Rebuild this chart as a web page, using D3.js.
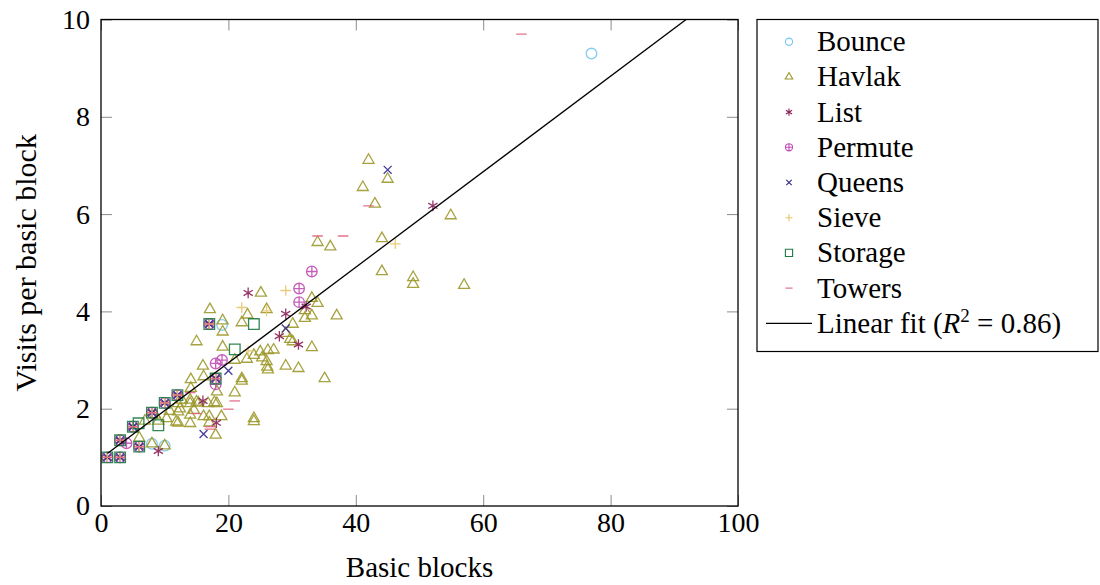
<!DOCTYPE html>
<html>
<head>
<meta charset="utf-8">
<script src="https://cdn.jsdelivr.net/npm/d3@7"></script>
<style>
  body { margin: 0; background: #fff; }
  svg, text { font-family: "Liberation Serif", "DejaVu Serif", serif; fill: #000; }
</style>
</head>
<body>
<svg id="chart" width="1100" height="585"></svg>
<script>
const xTicks = [0, 20, 40, 60, 80, 100];
const yTicks = [0, 2, 4, 6, 8, 10];

// spots where most of the benchmarks sit on top of each other
const sharedPoints = [[1, 1], [3, 1], [3, 1.35], [5, 1.63], [6, 1.22], [8, 1.92], [10, 2.12], [12, 2.28], [17, 3.74], [18, 2.62]];

const bounce = [[3, 1], [8, 1.28], [10, 1.24], [19, 3.72], [77, 9.3]];
const havlak = [
  [6, 1.4], [6.9, 1.75], [8, 1.28], [8.5, 1.87], [9, 1.75], [10, 1.24], [10.3, 1.8], [10.8, 1.95], [11.8, 1.73],
  [12.1, 1.71], [12.1, 1.94], [12.1, 2.11], [12.4, 2.0], [12.7, 2.18], [14, 1.7], [14, 1.87], [14, 2.11], [14, 2.18],
  [14.1, 2.42], [14.1, 2.6], [14.6, 1.97], [15, 2.14], [15, 3.38], [15.3, 2.12], [16, 2.88], [16.1, 2.66], [16.1, 1.84],
  [16.8, 2.11], [17, 1.71], [17, 1.84], [17.1, 4.04], [17.8, 2.13], [18, 1.46], [18.2, 2.11], [18.2, 2.35], [18.9, 1.84],
  [19.1, 3.27], [19.1, 3.58], [19.1, 3.81], [21, 2.33], [21, 3.0], [22.1, 2.57], [22.1, 2.62], [22.1, 3.77], [22.9, 3.02],
  [23, 3.93], [24, 1.8], [24, 1.74], [24, 3.1], [25, 3.17], [25.1, 4.38], [25.3, 3.05], [26, 2.97], [26, 4.04], [26.1, 2.86],
  [26.2, 2.8], [26.2, 3.2], [27.1, 3.21], [29, 2.88], [29, 3.55], [29.7, 3.43], [30.1, 3.38], [30.1, 3.74], [31, 2.83],
  [32, 3.86], [32, 4.02], [33.1, 3.26], [33.1, 3.91], [33.1, 4.27], [34, 4.17], [34, 5.42], [35.1, 2.62], [36, 5.33],
  [37, 3.91], [41.1, 6.55], [42, 7.11], [43, 6.21], [44.1, 4.82], [44.1, 5.5], [45, 6.72], [49, 4.56], [49, 4.7],
  [54.9, 5.97], [57, 4.54]
];
const list = sharedPoints.concat([[9, 1.13], [16, 2.16], [18.1, 1.71], [23.1, 4.38], [28, 3.49], [29, 3.95], [31, 3.32], [32.2, 4.1], [52.1, 6.17]]);
const permute = sharedPoints.concat([[4, 1.29], [18, 2.5], [18, 2.93], [19, 3.0], [31.1, 4.19], [31.1, 4.47], [33.1, 4.82]]);
const queens = sharedPoints.concat([[16.1, 1.48], [20, 2.78], [29, 3.65], [45, 6.91]]);
const sieve = sharedPoints.concat([[22.1, 4.08], [23.1, 3.19], [26, 4.01], [29, 4.43], [46.2, 5.39]]);
const storage = sharedPoints.concat([[5.9, 1.7], [9, 1.66], [21, 3.22], [24, 3.74]]);
const towers = sharedPoints.concat([[14, 2.33], [15, 1.9], [17.1, 1.63], [17.1, 1.58], [20, 1.99], [21, 2.16], [34, 5.55], [38, 5.55], [42, 6.17], [66, 9.7]]);

const fitIntercept = 0.98;
const fitSlope = 0.0982;
const fitR2 = '0.86';

const series = [
  { name: 'Bounce', values: bounce, mark: 'circle', color: '#74c6ef' },
  { name: 'Havlak', values: havlak, mark: 'triangle', color: '#9c982a' },
  { name: 'List', values: list, mark: 'asterisk', color: '#8a1e58' },
  { name: 'Permute', values: permute, mark: 'oplus', color: '#c04cb4' },
  { name: 'Queens', values: queens, mark: 'x', color: '#2e2890' },
  { name: 'Sieve', values: sieve, mark: 'plus', color: '#e6c66c' },
  { name: 'Storage', values: storage, mark: 'square', color: '#1c7a42' },
  { name: 'Towers', values: towers, mark: 'dash', color: '#e06482' }
];

const serifFont = '"Liberation Serif", "DejaVu Serif", serif';

// marker outline as a path string, s = rough half size
function markPath(kind, s) {
  const p = d3.path();
  if (kind === 'circle') {
    p.moveTo(s, 0); p.arc(0, 0, s, 0, 2 * Math.PI);
  } else if (kind === 'triangle') {
    const r = s * 1.2;
    p.moveTo(0, -r);
    p.lineTo(r * Math.cos(Math.PI / 6), r / 2);
    p.lineTo(-r * Math.cos(Math.PI / 6), r / 2);
    p.closePath();
  } else if (kind === 'asterisk') {
    for (let a = 0; a < 3; a++) {
      const ang = Math.PI / 2 + a * Math.PI / 3;
      p.moveTo(Math.cos(ang) * s, Math.sin(ang) * s);
      p.lineTo(-Math.cos(ang) * s, -Math.sin(ang) * s);
    }
  } else if (kind === 'oplus') {
    p.moveTo(s, 0); p.arc(0, 0, s, 0, 2 * Math.PI);
    p.moveTo(-s, 0); p.lineTo(s, 0);
    p.moveTo(0, -s); p.lineTo(0, s);
  } else if (kind === 'x') {
    const d = s * 0.75;
    p.moveTo(-d, -d); p.lineTo(d, d);
    p.moveTo(-d, d); p.lineTo(d, -d);
  } else if (kind === 'plus') {
    p.moveTo(-s, 0); p.lineTo(s, 0);
    p.moveTo(0, -s); p.lineTo(0, s);
  } else if (kind === 'square') {
    p.rect(-s, -s, 2 * s, 2 * s);
  } else if (kind === 'dash') {
    p.moveTo(-s, 0); p.lineTo(s, 0);
  }
  return p.toString();
}

function drawChart() {
  const svg = d3.select('#chart').attr('font-family', serifFont);
  svg.selectAll('*').remove();

  const plot = { left: 101, right: 738, top: 19.5, bottom: 506 };
  const x = d3.scaleLinear().domain([0, 100]).range([plot.left, plot.right]);
  const y = d3.scaleLinear().domain([0, 10]).range([plot.bottom, plot.top]);

  svg.append('clipPath').attr('id', 'plotClip')
    .append('rect')
    .attr('x', plot.left).attr('y', plot.top)
    .attr('width', plot.right - plot.left).attr('height', plot.bottom - plot.top);

  // Axes with inward ticks on all four sides
  const tickLen = -11;
  const axes = [
    { axis: d3.axisBottom(x).tickValues(xTicks).tickSize(tickLen).tickPadding(6), at: `translate(0,${plot.bottom})` },
    { axis: d3.axisTop(x).tickValues(xTicks).tickSize(tickLen).tickFormat(''), at: `translate(0,${plot.top})` },
    { axis: d3.axisLeft(y).tickValues(yTicks).tickSize(tickLen).tickPadding(11), at: `translate(${plot.left},0)` },
    { axis: d3.axisRight(y).tickValues(yTicks).tickSize(tickLen).tickFormat(''), at: `translate(${plot.right},0)` }
  ];
  axes.forEach(a => {
    const g = svg.append('g').attr('transform', a.at).call(a.axis.tickSizeOuter(0));
    g.attr('font-family', serifFont).attr('font-size', 28);
    g.select('.domain').remove();
    g.selectAll('.tick line').attr('stroke', '#8c8c8c').attr('stroke-width', 1);
    g.selectAll('.tick text').attr('fill', '#000');
  });

  // Scatter marks
  const marks = svg.append('g').attr('clip-path', 'url(#plotClip)');
  series.forEach(s => {
    marks.append('g')
      .selectAll('path')
      .data(s.values)
      .join('path')
      .attr('transform', d => `translate(${x(d[0])},${y(d[1])})`)
      .attr('d', markPath(s.mark, 5.3))
      .attr('fill', 'none')
      .attr('stroke', s.color)
      .attr('stroke-width', 1.3)
      .attr('stroke-opacity', 0.9);
  });

  // Linear fit
  const fitLine = d3.line().x(d => x(d)).y(d => y(fitIntercept + fitSlope * d));
  const allX = series.flatMap(s => s.values.map(d => d[0]));
  svg.append('path')
    .attr('clip-path', 'url(#plotClip)')
    .attr('d', fitLine([d3.min(allX), 100]))
    .attr('fill', 'none')
    .attr('stroke', '#000')
    .attr('stroke-width', 1.3);

  // Frame
  svg.append('rect')
    .attr('x', plot.left).attr('y', plot.top)
    .attr('width', plot.right - plot.left).attr('height', plot.bottom - plot.top)
    .attr('fill', 'none').attr('stroke', '#000').attr('stroke-width', 1.3);

  // Axis titles
  svg.append('text')
    .attr('x', (plot.left + plot.right) / 2)
    .attr('y', 577)
    .attr('text-anchor', 'middle')
    .style('font-size', '29px')
    .text('Basic blocks');

  svg.append('text')
    .attr('transform', `translate(36,${(plot.top + plot.bottom) / 2}) rotate(-90)`)
    .attr('text-anchor', 'middle')
    .style('font-size', '30px')
    .text('Visits per basic block');

  // Legend
  const legend = svg.append('g');
  legend.append('rect')
    .attr('x', 757).attr('y', plot.top)
    .attr('width', 341).attr('height', 332)
    .attr('fill', '#fff').attr('stroke', '#000').attr('stroke-width', 1.2);

  const rowH = 35.2;
  series.forEach((s, i) => {
    const cy = 41.7 + i * rowH;
    legend.append('path')
      .attr('transform', `translate(789,${cy})`)
      .attr('d', markPath(s.mark, 3.6))
      .attr('fill', 'none')
      .attr('stroke', s.color)
      .attr('stroke-width', 1.1);
    legend.append('text')
      .attr('x', 817).attr('y', cy + 9.5)
      .style('font-size', '29px')
      .text(s.name);
  });

  const fy = 41.7 + series.length * rowH;
  legend.append('line')
    .attr('x1', 766).attr('x2', 812)
    .attr('y1', fy).attr('y2', fy)
    .attr('stroke', '#000').attr('stroke-width', 1.2);
  const fitText = legend.append('text')
    .attr('x', 817).attr('y', fy + 9.5)
    .style('font-size', '29px');
  fitText.append('tspan').text('Linear fit (');
  fitText.append('tspan').style('font-style', 'italic').text('R');
  fitText.append('tspan').attr('dy', -11).style('font-size', '19px').text('2');
  fitText.append('tspan').attr('dy', 11).text(' = ' + fitR2 + ')');
}

drawChart();
</script>
</body>
</html>
